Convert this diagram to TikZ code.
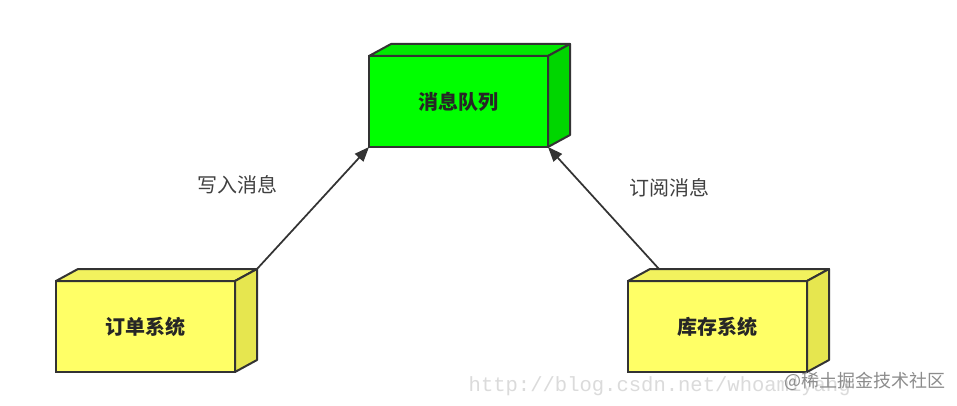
\documentclass[tikz,border=0pt]{standalone}
\usepackage{fontspec}
\setmainfont{Noto Sans CJK SC}
\newfontfamily\wmfont{Liberation Mono}
\usetikzlibrary{calc,arrows.meta}
\definecolor{qgreen}{HTML}{00FF00}
\definecolor{qgreentop}{HTML}{00EA00}
\definecolor{qgreenside}{HTML}{00D600}
\definecolor{syellow}{HTML}{FFFF66}
\definecolor{syellowtop}{HTML}{F2F25E}
\definecolor{syellowside}{HTML}{E6E64F}
\definecolor{edge}{HTML}{333333}
\tikzset{
	sysbox/.style={draw=edge, line width=1.5pt, outer sep=0pt, inner sep=0pt, minimum width=134.25pt, minimum height=68.25pt, font=\fontsize{15}{17}\selectfont\bfseries, text=black!85},
	face/.style={draw=edge, line width=1.5pt, line join=round},
	flow/.style={draw=edge, line width=1.3pt, -{Triangle[length=11pt, width=8.5pt]}},
	msg/.style={font=\fontsize{15}{17}\selectfont, text=black!75}
}
\def\depthfaces(#1)[#2][#3]{
	\draw[face, fill=#2] (#1.north west) -- ++(22,-12) -- ($(#1.north east)+(22,-12)$) -- (#1.north east) -- cycle;
	\draw[face, fill=#3] (#1.north east) -- ++(22,-12) -- ($(#1.south east)+(22,-12)$) -- (#1.south east) -- cycle;
}

\begin{document}
\begin{tikzpicture}[x=0.75pt, y=-0.75pt]
		%%%%% START %%%%%
		
		\useasboundingbox[fill=white] (0, 0) rectangle (957, 406);
		
		\node[sysbox, fill=qgreen] (queue) at (458.5, 101.5) {消息队列};
		\depthfaces(queue)[qgreentop][qgreenside]
		
		\node[sysbox, fill=syellow] (order) at (145.5, 326.5) {订单系统};
		\depthfaces(order)[syellowtop][syellowside]
		
		\node[sysbox, fill=syellow] (stock) at (717.5, 326.5) {库存系统};
		\depthfaces(stock)[syellowtop][syellowside]
		
		\coordinate (orderout) at ($(order.north east)+(22,-12)$);
		\coordinate (stockout) at ($(stock.north west)+(31,-12)$);
		
		\draw[flow] (orderout) -- (queue.south west);
		\draw[flow] (stockout) -- (queue.south east);
		
		\node[msg] (write) at (237, 185) {写入消息};
		\node[msg] (subscribe) at (669, 188) {订阅消息};
		
		\node[anchor=west, font=\wmfont\fontsize{15.4}{17}\selectfont, text=black!14] (url) at (464, 386) {http://blog.csdn.net/whoamiyang};
		\node[anchor=west, font=\fontsize{13.5}{15}\selectfont, text=black!45] (site) at (780, 381) {@稀土掘金技术社区};
		
		%%%%% END %%%%%
\end{tikzpicture}
\end{document}
